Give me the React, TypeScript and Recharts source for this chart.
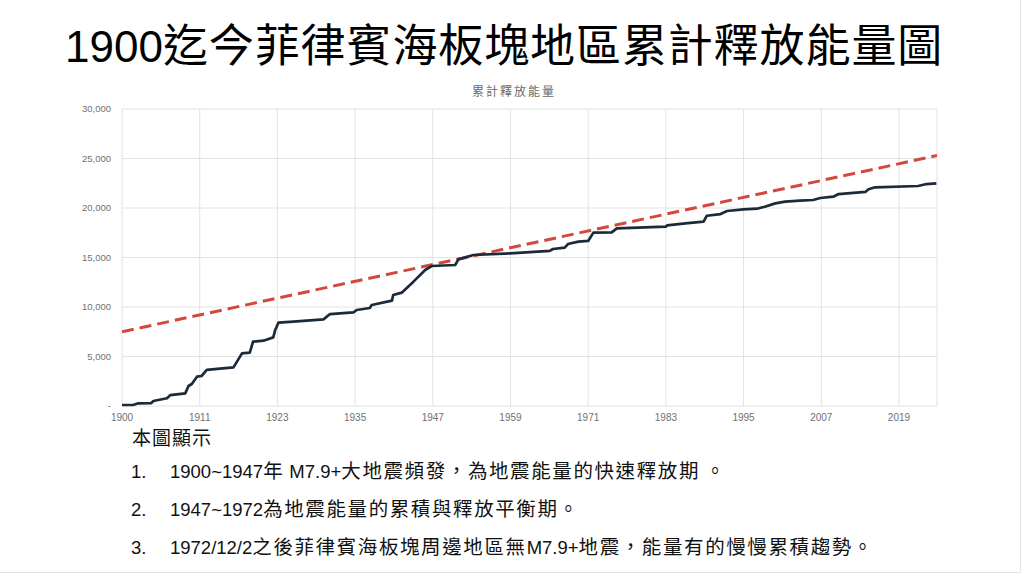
import React from 'react';
import { LineChart, Line, XAxis, YAxis, CartesianGrid } from 'recharts';

const years = [1900, 1901.7, 1902.5, 1904.5, 1904.8, 1906.9, 1907.4, 1909.7, 1910.2, 1910.7, 1911.5, 1912.2, 1913.0, 1917.1, 1918.4, 1919.6, 1920.1, 1921.7, 1923.2, 1923.5, 1924.0, 1926.3, 1930.9, 1931.9, 1935.5, 1936.0, 1938.0, 1938.3, 1941.4, 1941.6, 1942.9, 1944.7, 1946.5, 1947.5, 1951.1, 1951.6, 1953.9, 1959.5, 1965.6, 1966.1, 1967.9, 1968.4, 1970.0, 1971.5, 1972.3, 1975.1, 1975.9, 1983.4, 1983.6, 1986.4, 1989.2, 1989.7, 1991.8, 1992.8, 1995.3, 1997.4, 1998.6, 2000.2, 2001.7, 2004.0, 2006.0, 2007.1, 2009.1, 2009.9, 2014.0, 2014.5, 2015.5, 2022.1, 2023.4, 2024.9];

const energy = [100, 100, 270, 300, 500, 780, 1100, 1280, 2020, 2220, 2960, 3030, 3640, 3900, 5320, 5390, 6500, 6600, 6930, 7680, 8420, 8520, 8750, 9290, 9460, 9700, 9900, 10200, 10640, 11210, 11450, 12560, 13740, 14140, 14240, 14810, 15250, 15420, 15660, 15860, 15990, 16360, 16600, 16670, 17510, 17540, 17940, 18110, 18250, 18450, 18620, 19220, 19390, 19700, 19870, 19930, 20130, 20470, 20640, 20740, 20810, 21010, 21140, 21410, 21620, 21890, 22090, 22220, 22420, 22490];

const trendYears = [1900, 2025];
const trendValues = [7500, 25300];

const xTickValues = [1900, 1911.92, 1923.83, 1935.75, 1947.67, 1959.58, 1971.5, 1983.42, 1995.33, 2007.25, 2019.17];
const xTickLabels = ['1900', '1911', '1923', '1935', '1947', '1959', '1971', '1983', '1995', '2007', '2019'];

const yTicks = [0, 5000, 10000, 15000, 20000, 25000, 30000];

const mainTitle = '1900迄今菲律賓海板塊地區累計釋放能量圖';
const chartTitle = '累計釋放能量';
const noteHeading = '本圖顯示';
const notes = [
  '1900~1947年 M7.9+大地震頻發，為地震能量的快速釋放期 。',
  '1947~1972為地震能量的累積與釋放平衡期。',
  '1972/12/2之後菲律賓海板塊周邊地區無M7.9+地震，能量有的慢慢累積趨勢。',
];

const mainData = years.map((y, i) => ({ year: y, value: energy[i] }));
const trendData = trendYears.map((y, i) => ({ year: y, trend: trendValues[i] }));

const latinFont = '"Liberation Sans", "Noto Sans CJK TC", sans-serif';
const cjkFont = '"Noto Sans CJK TC", sans-serif';

function Mixed({ text, latinSize, cjkSize, cjkSpacing }: { text: string; latinSize: number; cjkSize: number; cjkSpacing: number }) {
  const parts = text.split(/([\u3000-\u9fff\uff00-\uffef]+)/);
  return (
    <>
      {parts.map((p, i) =>
        /[\u3000-\u9fff\uff00-\uffef]/.test(p) ? (
          <span key={i} style={{ fontFamily: cjkFont, fontSize: cjkSize, letterSpacing: cjkSpacing }}>{p}</span>
        ) : (
          <span key={i} style={{ fontFamily: latinFont, fontSize: latinSize }}>{p}</span>
        )
      )}
    </>
  );
}

export default function App() {
  return (
    <div style={{ position: 'absolute', left: 0, top: 0, width: 1024, height: 576, background: '#ffffff', overflow: 'hidden', fontFamily: latinFont }}>
      <div style={{ position: 'absolute', right: 3, top: 0, width: 1, height: 573, background: '#e4e4e4' }} />
      <div style={{ position: 'absolute', left: 0, top: 572, width: 1021, height: 1, background: '#e4e4e4' }} />
      <div style={{ position: 'absolute', left: 65, top: 12, whiteSpace: 'nowrap', lineHeight: '62px', color: '#000' }}>
        <Mixed text={mainTitle} latinSize={44} cjkSize={45} cjkSpacing={0.9} />
      </div>
      <div style={{ position: 'absolute', left: 0, top: 82, width: 1028, textAlign: 'center', fontSize: 12, lineHeight: '17px', color: '#6b6b6b', fontFamily: cjkFont, letterSpacing: 2 }}>
        {chartTitle}
      </div>
      <div style={{ position: 'absolute', left: 0, top: 0 }}>
        <LineChart width={1024} height={430} margin={{ top: 109, right: 87, bottom: 4, left: 62 }}>
          <CartesianGrid stroke="#e2e2e2" strokeWidth={1} />
          <XAxis
            type="number"
            dataKey="year"
            domain={[1900, 2025]}
            ticks={xTickValues}
            tickFormatter={(v: number) => xTickLabels[xTickValues.indexOf(v)] ?? String(Math.floor(v))}
            tickLine={false}
            axisLine={false}
            tickMargin={2}
            height={20}
            tick={{ fontSize: 10, fill: '#707070', fontFamily: '"Liberation Sans", sans-serif' }}
            allowDataOverflow
          />
          <YAxis
            type="number"
            domain={[0, 30000]}
            ticks={yTicks}
            tickFormatter={(v: number) => (v === 0 ? '-' : v.toLocaleString('en-US'))}
            tickLine={false}
            axisLine={false}
            tickMargin={5}
            width={60}
            tick={{ fontSize: 9.5, fill: '#707070', fontFamily: '"Liberation Sans", sans-serif' }}
          />
          <Line
            data={trendData}
            dataKey="trend"
            type="linear"
            stroke="#d4473c"
            strokeWidth={3}
            strokeDasharray="12 6"
            dot={false}
            activeDot={false}
            isAnimationActive={false}
          />
          <Line
            data={mainData}
            dataKey="value"
            type="linear"
            stroke="#1c2a3a"
            strokeWidth={2.7}
            strokeLinejoin="round"
            dot={false}
            activeDot={false}
            isAnimationActive={false}
          />
        </LineChart>
      </div>
      <div style={{ position: 'absolute', left: 132, top: 424, lineHeight: '26px', color: '#111', whiteSpace: 'nowrap' }}>
        <Mixed text={noteHeading} latinSize={18.5} cjkSize={19} cjkSpacing={1} />
      </div>
      {notes.map((t, i) => (
        <div key={i} style={{ position: 'absolute', left: 131, top: 457 + i * 38, lineHeight: '26px', color: '#111', whiteSpace: 'nowrap', fontFamily: latinFont, fontSize: 18.5 }}>
          <span style={{ display: 'inline-block', width: 39 }}>{i + 1}.</span>
          <Mixed text={t} latinSize={18.5} cjkSize={19.5} cjkSpacing={1.6} />
        </div>
      ))}
    </div>
  );
}
